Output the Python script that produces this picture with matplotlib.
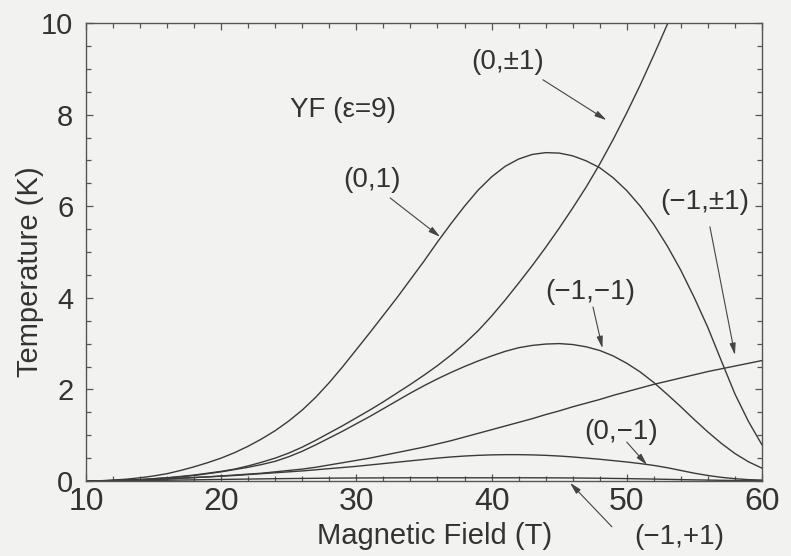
import numpy as np
import matplotlib
matplotlib.use('Agg')
from matplotlib import pyplot as plt
from matplotlib.ticker import MultipleLocator

plt.rcParams['font.family'] = ['Liberation Sans', 'DejaVu Sans']

# Magnetic field grid (T), 10 ... 60 in 1 T steps, shared by all curves
field = list(range(10, 61))

# Transition temperatures (K) for each (N, M) pair, one value per field point
t_0_p1 = [0.0, 0.005, 0.02, 0.04, 0.07, 0.11, 0.16, 0.23, 0.31, 0.40,
          0.50, 0.62, 0.76, 0.92, 1.10, 1.31, 1.55, 1.83, 2.15, 2.50,
          2.87, 3.24, 3.62, 4.00, 4.40, 4.80, 5.22, 5.62, 6.00, 6.35,
          6.64, 6.87, 7.03, 7.13, 7.17, 7.16, 7.10, 6.99, 6.84, 6.62,
          6.34, 6.00, 5.60, 5.13, 4.60, 4.00, 3.35, 2.62, 1.90, 1.30,
          0.79]
t_0_pm1 = [0.0, 0.004, 0.01, 0.02, 0.03, 0.05, 0.07, 0.10, 0.13, 0.17,
           0.21, 0.26, 0.33, 0.41, 0.50, 0.61, 0.74, 0.89, 1.05, 1.21,
           1.38, 1.55, 1.73, 1.92, 2.11, 2.31, 2.52, 2.75, 3.00, 3.28,
           3.60, 3.95, 4.32, 4.70, 5.10, 5.52, 5.96, 6.42, 6.92, 7.46,
           8.04, 8.65, 9.30, 9.97, 10.65, 11.35, 12.1, 12.85, 13.6, 14.4,
           15.2]
t_m1_m1 = [0.0, 0.004, 0.01, 0.02, 0.03, 0.05, 0.07, 0.09, 0.12, 0.16,
           0.20, 0.25, 0.30, 0.36, 0.43, 0.53, 0.65, 0.79, 0.94, 1.09,
           1.25, 1.41, 1.58, 1.75, 1.92, 2.08, 2.23, 2.37, 2.50, 2.62,
           2.73, 2.83, 2.91, 2.96, 2.99, 3.00, 2.98, 2.93, 2.85, 2.73,
           2.57, 2.38, 2.15, 1.89, 1.62, 1.34, 1.07, 0.82, 0.60, 0.42,
           0.28]
t_m1_pm1 = [0.0, 0.003, 0.008, 0.015, 0.025, 0.035, 0.045, 0.06, 0.075, 0.09,
            0.11, 0.13, 0.15, 0.17, 0.20, 0.23, 0.26, 0.30, 0.35, 0.40,
            0.45, 0.50, 0.56, 0.62, 0.68, 0.74, 0.81, 0.88, 0.96, 1.04,
            1.12, 1.20, 1.28, 1.36, 1.45, 1.53, 1.62, 1.70, 1.78, 1.87,
            1.95, 2.03, 2.11, 2.18, 2.25, 2.32, 2.39, 2.45, 2.51, 2.57,
            2.63]
t_0_m1 = [0.0, 0.003, 0.008, 0.015, 0.025, 0.035, 0.045, 0.06, 0.075, 0.09,
          0.105, 0.12, 0.14, 0.16, 0.18, 0.20, 0.22, 0.245, 0.27, 0.295,
          0.32, 0.35, 0.38, 0.41, 0.44, 0.47, 0.50, 0.525, 0.545, 0.56,
          0.57, 0.575, 0.575, 0.57, 0.56, 0.545, 0.525, 0.50, 0.475, 0.445,
          0.415, 0.38, 0.34, 0.29, 0.23, 0.17, 0.12, 0.08, 0.05, 0.03,
          0.02]
t_m1_p1 = [0.0, 0.0, 0.003, 0.006, 0.01, 0.013, 0.017, 0.021, 0.025, 0.03,
           0.034, 0.038, 0.042, 0.046, 0.05, 0.053, 0.056, 0.059, 0.062, 0.064,
           0.066, 0.067, 0.068, 0.069, 0.07, 0.07, 0.07, 0.07, 0.07, 0.07,
           0.07, 0.07, 0.07, 0.07, 0.069, 0.068, 0.066, 0.063, 0.06, 0.056,
           0.052, 0.047, 0.042, 0.036, 0.03, 0.025, 0.02, 0.015, 0.011, 0.008,
           0.006]

bg = '#f2f2f0'
ink = '#3a3a3a'

fig = plt.figure(figsize=(7.91, 5.56), dpi=100, facecolor=bg)
ax = fig.add_axes([0.1087, 0.1349, 0.8546, 0.8237], facecolor=bg)

for temps in [t_0_p1, t_0_pm1, t_m1_m1, t_m1_pm1, t_0_m1, t_m1_p1]:
    ax.plot(field, temps, color=ink, lw=1.0)

ax.set_xlim(10, 60)
ax.set_ylim(0, 10)
ax.xaxis.set_major_locator(MultipleLocator(10))
ax.xaxis.set_minor_locator(MultipleLocator(2))
ax.yaxis.set_major_locator(MultipleLocator(2))
ax.yaxis.set_minor_locator(MultipleLocator(0.5))
ax.tick_params(which='both', direction='in', top=True, right=True, color='#555555', width=0.9)
ax.tick_params(which='major', length=5)
ax.tick_params(which='minor', length=3.5)
ax.tick_params(axis='x', labelsize=23, pad=4, labelcolor='#333333')
ax.tick_params(axis='y', labelsize=21, pad=9, labelcolor='#333333')
for s in ax.spines.values():
    s.set_color('#555555')
    s.set_linewidth(1.0)

ax.set_xlabel('Magnetic Field (T)', fontsize=21, color='#333333')
ax.set_ylabel('Temperature (K)', fontsize=21, color='#333333')
ax.xaxis.set_label_coords(0.516, -0.09)
ax.yaxis.set_label_coords(-0.062, 0.456)

# Labels for each curve, with arrows pointing at it
ax.text(25.1, 8.1, 'YF (\u03b5=9)', fontsize=20, color='#333333', ha='left', va='center')

labels = [
    ('(0,1)', (31.15, 6.57), (32.5, 6.18), (36.2, 5.33)),
    ('(0,\u00b11)', (41.2, 9.15), (43.8, 8.76), (48.5, 7.88)),
    ('(\u22121,\u00b11)', (55.8, 6.09), (56.15, 5.55), (58.0, 2.75)),
    ('(\u22121,\u22121)', (47.3, 4.13), (47.5, 3.8), (48.2, 2.9)),
    ('(0,\u22121)', (49.6, 1.07), (50.0, 0.85), (51.5, 0.35)),
    ('(\u22121,+1)', (53.9, -1.22), (48.9, -1.0), (45.8, -0.04)),
]
for text, txt_pos, start, tip in labels:
    ax.text(txt_pos[0], txt_pos[1], text, fontsize=20, color='#333333',
            ha='center', va='center', clip_on=False)
    ax.annotate('', xy=tip, xytext=start, annotation_clip=False,
                arrowprops=dict(arrowstyle='-|>,head_length=0.7,head_width=0.18',
                                color='#444444', lw=0.8, shrinkA=0, shrinkB=0))

fig.savefig('out.png', dpi=100, facecolor=bg)
